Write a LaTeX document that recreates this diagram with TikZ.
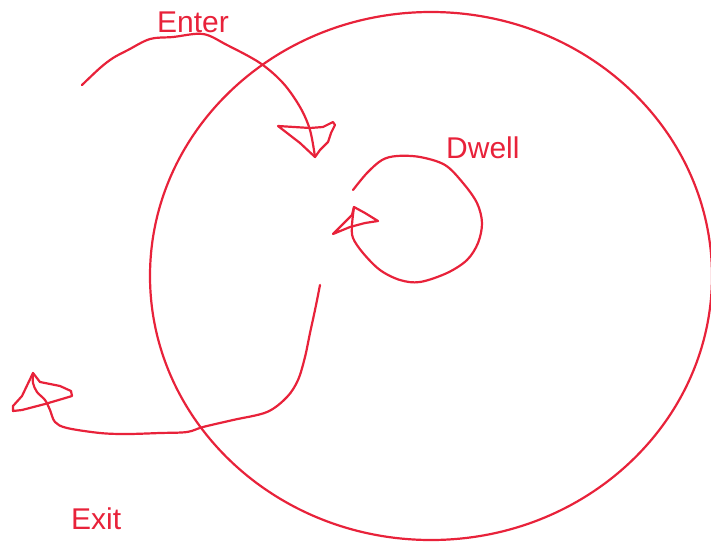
\documentclass[tikz,border=0pt]{standalone}
\usepackage{fontspec}
\setmainfont{Liberation Sans}
\definecolor{ink}{RGB}{232,34,58}
\tikzset{
  pen/.style={draw=ink, line width=2.2pt, line cap=round, line join=round},
  lbl/.style={text=ink, inner sep=0pt, anchor=base west, font=\fontsize{30}{36}\selectfont}
}
\begin{document}
\begin{tikzpicture}[x=1pt,y=-1pt]
\useasboundingbox (0,0) rectangle (711,544);
% big circle
\draw[pen] (431,276) ellipse [x radius=281, y radius=264];
% labels
\node[lbl] (enter) at (157,32) {Enter};
\node[lbl] (dwell) at (446,158) {Dwell};
\node[lbl] (exit) at (71,529) {Exit};
% enter stroke
\coordinate (enterStart) at (82,85);
\coordinate (enterTip) at (315,157);
\draw[pen] plot[smooth, tension=0.55] coordinates {(82,85) (100,68) (113,58) (128,50) (150,39) (173,37) (203,34) (227,45) (260,63) (283,83) (300,107) (310,130) (315,157)};
\draw[pen] (enterTip) -- (300,143) -- (278,126) -- (310,128) -- (323,127) -- (333,122) -- (335,125) -- (331,133) -- (328,142) -- (320,150) -- cycle;
% dwell loop
\coordinate (dwellStart) at (353,190);
\coordinate (dwellTip) at (354,207);
\draw[pen] plot[smooth, tension=0.55] coordinates {(353,190) (367,173) (382,160) (397,156) (420,157) (445,165) (463,183) (477,203) (482,223) (478,243) (467,260) (447,273) (420,282) (400,280) (380,270) (363,253) (353,238) (352,225) (354,207)};
\draw[pen] (dwellTip) -- (365,213) -- (378,221) -- (365,223) -- (350,227) -- (333,234) -- (352,215) -- cycle;
% exit stroke
\coordinate (exitStart) at (320,285);
\coordinate (exitTip) at (33,373);
\draw[pen] plot[smooth, tension=0.55] coordinates {(320,285) (315,310) (310,333) (305,357) (298,380) (287,397) (267,412) (233,420) (203,427) (187,432) (160,433) (127,434) (100,433) (67,428) (55,422) (50,410) (45,400) (37,392) (33,383) (33,373)};
\draw[pen] (exitTip) -- (40,382) -- (60,386) -- (71,391) -- (72,396) -- (62,399) -- (45,404) -- (22,410) -- (13,411) -- (13,406) -- (22,396) -- cycle;
\end{tikzpicture}
\end{document}
